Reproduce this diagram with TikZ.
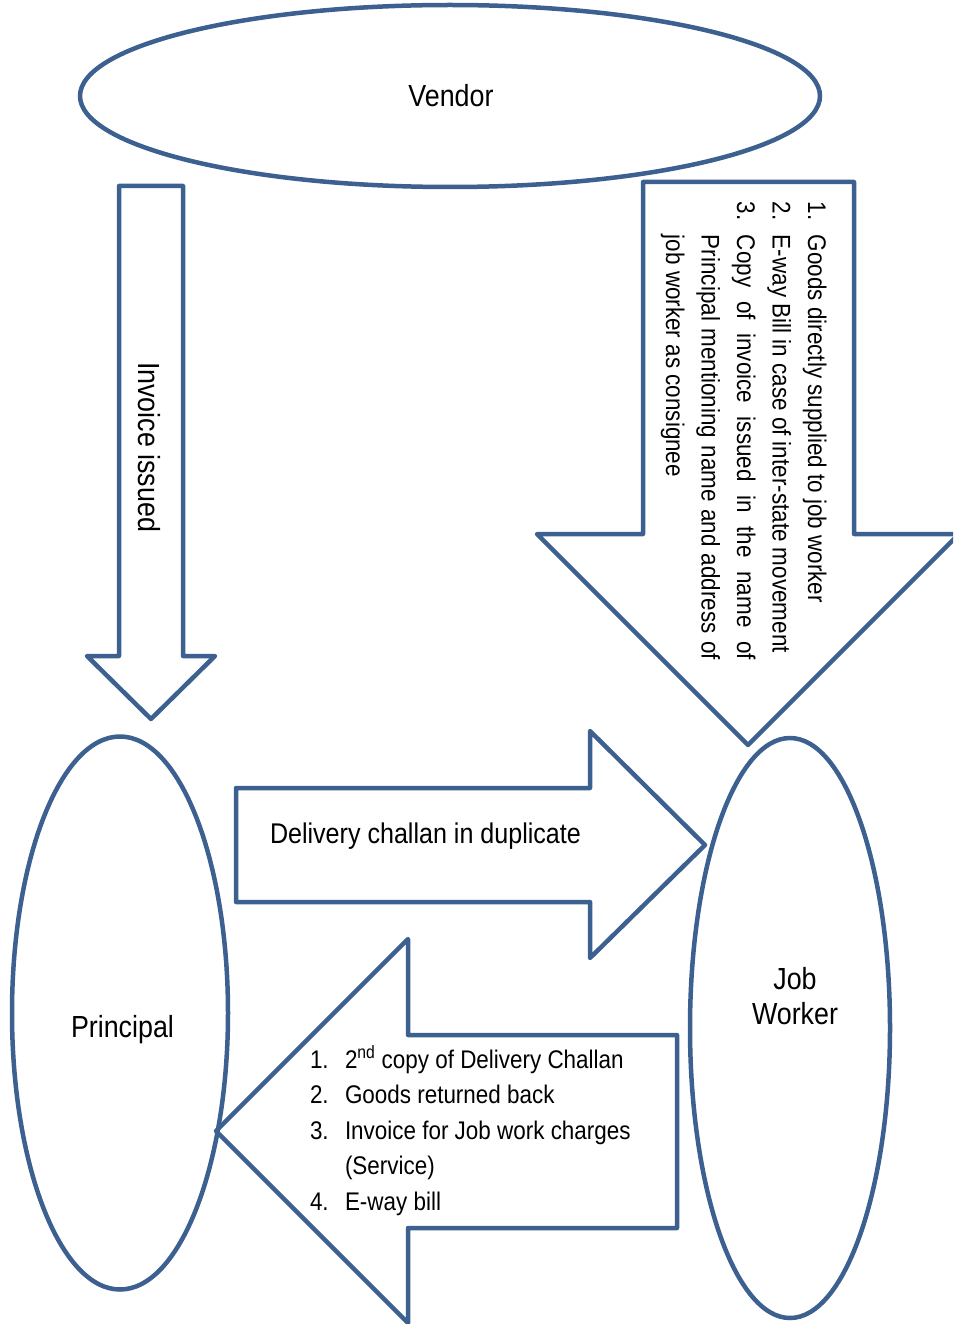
\documentclass[tikz,border=0pt]{standalone}
\usepackage{fontspec}
\setmainfont{Liberation Sans}[FakeStretch=0.88]
\usetikzlibrary{shapes.geometric}
\definecolor{flowblue}{RGB}{60,96,143}
\newcommand{\lblfont}{\fontsize{30.5}{35}\selectfont}
\newcommand{\dlvfont}{\fontsize{28.5}{34}\selectfont}
\newcommand{\lstfont}{\fontsize{25.5}{35.5}\selectfont}

\begin{document}
\begin{tikzpicture}[x=1pt,y=1pt]
\tikzstyle{every node}+=[inner sep=0pt, outer sep=0pt]
\tikzstyle{blk}=[draw=flowblue, line width=4.5pt, line join=round]
\tikzstyle{oval}=[blk, ellipse]
\useasboundingbox (0,0) rectangle (953,-1324);
\clip (0,0) rectangle (953,-1324);
% parties
\node [oval, minimum width=740, minimum height=182] (vendor) at (450,-96) {};
\node [oval, minimum width=216, minimum height=553] (principal) at (120,-1013) {};
\node [oval, minimum width=200, minimum height=580] (jobworker) at (790,-1028) {};
\node [font=\lblfont, anchor=base] (vendortxt) at (451,-107) {Vendor};
\node [font=\lblfont, anchor=base west] (principaltxt) at (71,-1037) {Principal};
\node [font=\lblfont, align=center] (jobworkertxt) at (795,-996) {Job\\Worker};
% vendor -> principal
\draw [blk] (119,-186) -- (183,-186) -- (183,-656) -- (215,-656) -- (151,-719)
  -- (87,-656) -- (119,-656) -- cycle;
\node [font=\lblfont, rotate=-90, anchor=base west] (invoicetxt) at (138,-362) {Invoice issued};
% vendor -> job worker
\draw [blk] (643,-182) -- (854,-182) -- (854,-534) -- (959,-534) -- (748,-745)
  -- (537,-534) -- (643,-534) -- cycle;
\node [font=\lstfont, rotate=-90, anchor=base west] (gnum1) at (808,-202) {1.};
\node [font=\lstfont, rotate=-90, anchor=base west] (gtxt1) at (808,-235) {Goods directly supplied to job worker};
\node [font=\lstfont, rotate=-90, anchor=base west] (gnum2) at (772.5,-202) {2.};
\node [font=\lstfont, rotate=-90, anchor=base west] (gtxt2) at (772.5,-235) {E-way Bill in case of inter-state movement};
\node [font=\lstfont, rotate=-90, anchor=base west] (gnum3) at (737,-202) {3.};
\node [font=\lstfont, rotate=-90, anchor=base west] (gtxt3) at (737,-235) {\makebox[425pt][s]{Copy of invoice issued in the name of}};
\node [font=\lstfont, rotate=-90, anchor=base west] (gtxt4) at (701.5,-235) {\makebox[425pt][s]{Principal mentioning name and address of}};
\node [font=\lstfont, rotate=-90, anchor=base west] (gtxt5) at (666,-235) {job worker as consignee};
% principal -> job worker
\draw [blk] (236,-788) -- (590,-788) -- (590,-731) -- (705,-845) -- (590,-958)
  -- (590,-902) -- (236,-902) -- cycle;
\node [font=\dlvfont, anchor=base west] (challantxt) at (270,-843) {Delivery challan in duplicate};
% job worker -> principal
\draw [blk] (677,-1035) -- (408,-1035) -- (408,-939) -- (216,-1131) -- (408,-1323)
  -- (408,-1228) -- (677,-1228) -- cycle;
\node [font=\lstfont, anchor=base west] (rnum1) at (310,-1068) {1.};
\node [font=\lstfont, anchor=base west] (rtxt1) at (345,-1068) {2\textsuperscript{nd} copy of Delivery Challan};
\node [font=\lstfont, anchor=base west] (rnum2) at (310,-1103.5) {2.};
\node [font=\lstfont, anchor=base west] (rtxt2) at (345,-1103.5) {Goods returned back};
\node [font=\lstfont, anchor=base west] (rnum3) at (310,-1139) {3.};
\node [font=\lstfont, anchor=base west] (rtxt3) at (345,-1139) {Invoice for Job work charges};
\node [font=\lstfont, anchor=base west] (rtxt4) at (345,-1174.5) {(Service)};
\node [font=\lstfont, anchor=base west] (rnum4) at (310,-1210) {4.};
\node [font=\lstfont, anchor=base west] (rtxt5) at (345,-1210) {E-way bill};
\end{tikzpicture}
\end{document}
